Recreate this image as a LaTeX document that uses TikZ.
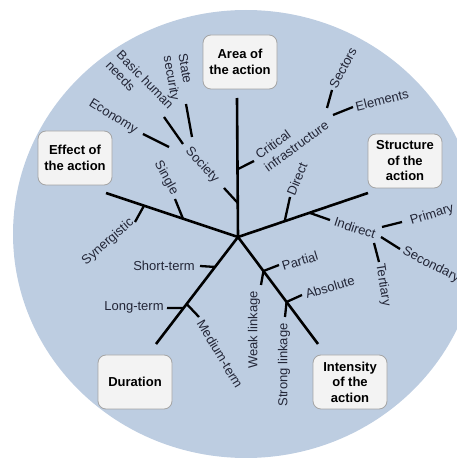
\documentclass[tikz,border=0pt]{standalone}
\usepackage{fontspec}
\setmainfont{Liberation Sans}
\usetikzlibrary{calc}
\definecolor{bgblue}{RGB}{189,205,225}
\definecolor{boxfill}{RGB}{243,243,243}
\definecolor{boxline}{RGB}{165,165,165}
\definecolor{labeltext}{RGB}{35,38,55}
\begin{document}
\begin{tikzpicture}[x=1pt,y=1pt,
  mainline/.style={line width=2.6pt},
  tickline/.style={line width=2.3pt},
  cat/.style={draw=boxline, line width=0.8pt, fill=boxfill, rounded corners=8pt,
    minimum width=74pt, minimum height=54pt, align=center, inner sep=2pt,
    font=\fontsize{13}{15.5}\selectfont\bfseries},
  lbl/.style={text=labeltext, inner sep=1pt, font=\fontsize{13}{15}\selectfont}]
\clip (0,0) rectangle (457,459);
\fill[bgblue] (246,225) ellipse [x radius=233, y radius=224];

% hub and main branch ends
\coordinate (H) at (238,222);
\coordinate (eA) at (237,361);
\coordinate (eE) at (106,266);
\coordinate (eS) at (368,266);
\coordinate (eD) at (156,115);
\coordinate (eI) at (318,115);

% category boxes
\node[cat] (area) at (240,397) {Area of\\the action};
\node[cat] (effect) at (75,301) {Effect of\\the action};
\node[cat] (struct) at (405,298) {Structure\\of the\\action};
\node[cat] (dur) at (135,77) {Duration};
\node[cat] (inten) at (350,77) {Intensity\\of the\\action};

% main lines
\draw[mainline] (H) -- (eA);
\draw[mainline] (H) -- (eE);
\draw[mainline] (H) -- (eS);
\draw[mainline] (H) -- (eD);
\draw[mainline] (H) -- (eI);

% junctions on the main lines
\coordinate (jCI) at ($(H)!0.487!(eA)$);
\coordinate (jSoc) at ($(H)!0.245!(eA)$);
\coordinate (jSingle) at ($(H)!0.417!(eE)$);
\coordinate (jSyn) at ($(H)!0.712!(eE)$);
\coordinate (jDirect) at ($(H)!0.359!(eS)$);
\coordinate (jIndirect) at ($(H)!0.55!(eS)$);
\coordinate (jShort) at ($(H)!0.28!(eD)$);
\coordinate (jLong) at ($(H)!0.664!(eD)$);
\coordinate (jMed) at ($(H)!0.626!(eD)$);
\coordinate (jPartial) at ($(H)!0.318!(eI)$);
\coordinate (jAbs) at ($(H)!0.607!(eI)$);

% tick ends
\coordinate (tCI) at (254,298);
\coordinate (tSoc) at (224,271);
\coordinate (tSingle) at (175,260);
\coordinate (tSyn) at (135,237);
\coordinate (tDirect) at (290,262);
\coordinate (tIndirect) at (330,239);
\coordinate (tShort) at (200,193);
\coordinate (tLong) at (167,151);
\coordinate (tMed) at (199,142);
\coordinate (tPartial) at (279,194);
\coordinate (tWeak) at (261,174);
\coordinate (tAbs) at (302,164);
\coordinate (tStrong) at (285,142);

% second level tick coordinates
\coordinate (sSec1) at (327,351); \coordinate (sSec2) at (332,369);
\coordinate (sEl1) at (333,344); \coordinate (sEl2) at (353,352);
\coordinate (sSt1) at (192,322); \coordinate (sSt2) at (186,355);
\coordinate (sBa1) at (183,315); \coordinate (sBa2) at (164,342);
\coordinate (sEc1) at (169,312); \coordinate (sEc2) at (143,325);
\coordinate (sPr1) at (382,232); \coordinate (sPr2) at (402,237);
\coordinate (sSe1) at (381,222); \coordinate (sSe2) at (400,210);
\coordinate (sTe1) at (374,216); \coordinate (sTe2) at (379,197);

% ticks
\foreach \a/\b in {jCI/tCI, jSoc/tSoc, jSingle/tSingle, jSyn/tSyn,
  jDirect/tDirect, jIndirect/tIndirect, jShort/tShort, jLong/tLong,
  jMed/tMed, jPartial/tPartial, jPartial/tWeak, jAbs/tAbs, jAbs/tStrong,
  sSec1/sSec2, sEl1/sEl2, sSt1/sSt2, sBa1/sBa2, sEc1/sEc2,
  sPr1/sPr2, sSe1/sSe2, sTe1/sTe2}
  \draw[tickline] (\a) -- (\b);

% labels
\node[lbl, align=left, rotate=36] (lCI) at (292,319) {Critical\\infrastructure};
\node[lbl, rotate=62] (lSectors) at (343,391) {Sectors};
\node[lbl, rotate=14] (lElements) at (382,359) {Elements};
\node[lbl, rotate=-47] (lSociety) at (202,294) {Society};
\node[lbl, align=left, rotate=-80] (lState) at (178,382) {State\\security};
\node[lbl, align=left, rotate=-46] (lBasic) at (140,374) {Basic human\\needs};
\node[lbl, rotate=-32] (lEconomy) at (113,342) {Economy};
\node[lbl, rotate=-61] (lSingle) at (166,281) {Single};
\node[lbl, rotate=41] (lSyn) at (108,217) {Synergistic};
\node[lbl, rotate=68] (lDirect) at (297,280) {Direct};
\node[lbl, rotate=-18] (lIndirect) at (355,231) {Indirect};
\node[lbl, rotate=17] (lPrimary) at (432,244) {Primary};
\node[lbl, rotate=-27] (lSecondary) at (431,194) {Secondary};
\node[lbl, rotate=-81] (lTertiary) at (383,174) {Tertiary};
\node[lbl] (lShort) at (164,193) {Short-term};
\node[lbl] (lLong) at (134,152) {Long-term};
\node[lbl, rotate=-59] (lMedium) at (220,105) {Medium-term};
\node[lbl, rotate=17] (lPartial) at (300,198) {Partial};
\node[lbl, rotate=90] (lWeak) at (254,129) {Weak linkage};
\node[lbl, rotate=17] (lAbsolute) at (330,172) {Absolute};
\node[lbl, rotate=90] (lStrong) at (284,94) {Strong linkage};
\end{tikzpicture}
\end{document}
